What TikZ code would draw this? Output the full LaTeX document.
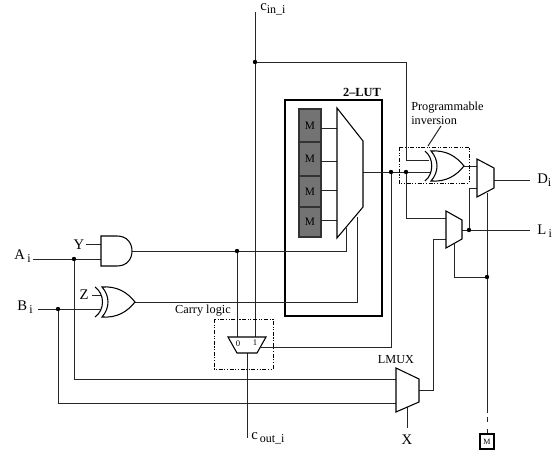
\documentclass[tikz,border=0pt]{standalone}
\usepackage{fontspec}
\setmainfont{Liberation Serif}
\newcommand{\subtxt}[1]{\raisebox{-0.45ex}{\fontsize{9}{9}\selectfont #1}}
\tikzset{
  wire/.style={line width=0.75pt,black!85},
  part/.style={line width=0.8pt,black,fill=white,line join=miter},
  dot/.style={circle,fill=black,inner sep=0pt,minimum size=3.3pt},
  dashbox/.style={line width=0.75pt,dash pattern=on 3pt off 1.2pt on 0.8pt off 1.2pt on 0.8pt off 1.2pt},
  lab/.style={inner sep=0pt,font=\fontsize{9.2}{10}\selectfont},
  biglab/.style={inner sep=0pt,font=\fontsize{11}{12}\selectfont},
  mblock/.style={draw=black!80,line width=0.8pt,fill=black!55,inner sep=0pt,minimum width=16.5pt,font=\fontsize{8.5}{9}\selectfont},
}
\begin{document}
\begin{tikzpicture}[x=0.75pt,y=-0.75pt]
\useasboundingbox (0,0) rectangle (558,454);
% named points
\coordinate (cintop) at (255,12);
\coordinate (cinj) at (255,62);
\coordinate (cincor) at (406,62);
\coordinate (xa) at (406,160);
\coordinate (xai) at (429,160);
\coordinate (lutout) at (363,172);
\coordinate (xbi) at (431,172);
\coordinate (xout) at (464,166);
\coordinate (dmuxa) at (477,166);
\coordinate (dmuxb) at (477,188);
\coordinate (dmuxo) at (494,180);
\coordinate (dmuxs) at (487,193);
\coordinate (dend) at (530,180);
\coordinate (lend) at (530,230);
\coordinate (lmuxo) at (462,230);
\coordinate (lmuxa) at (446,218);
\coordinate (lmuxb) at (446,239);
\coordinate (lmuxs) at (454,244);
\coordinate (lc1) at (406,218);
\coordinate (lc2) at (433,239);
\coordinate (lc3) at (433,390);
\coordinate (lmx) at (419,390);
\coordinate (sc) at (454,277);
\coordinate (dc) at (469,188);
\coordinate (ms) at (487,413);
\coordinate (msd) at (487,434);
\coordinate (xsel) at (407,428);
\coordinate (xst) at (407,406);
\coordinate (andout) at (132,251);
\coordinate (xorout) at (135,302);
\coordinate (ac) at (346,251);
\coordinate (am) at (346,228);
\coordinate (bc) at (357,302);
\coordinate (bm) at (357,217);
\coordinate (ai) at (33,259);
\coordinate (aand) at (101,259);
\coordinate (yst) at (86,244);
\coordinate (yand) at (101,244);
\coordinate (bi) at (38,309);
\coordinate (bxor) at (101,309);
\coordinate (zst) at (92,295);
\coordinate (zxor) at (101,295);
\coordinate (ad) at (74,379);
\coordinate (lma) at (396,379);
\coordinate (bd) at (58,403);
\coordinate (lmb) at (396,403);
\coordinate (c0) at (237,337);
\coordinate (c1) at (255,337);
\coordinate (cso) at (261,347);
\coordinate (csc) at (391,347);
\coordinate (coa) at (247,353);
\coordinate (cob) at (247,438);
\coordinate (pla) at (441,126);
\coordinate (plb) at (428,146);
% LUT box
\node[draw,line width=1.1pt,inner sep=0pt,minimum width=72.75pt,minimum height=162pt] (lut) at (333.5,208) {};
\node[inner sep=0pt,font=\fontsize{9.3}{10}\selectfont\bfseries] (lutlab) at (362,92) {2--LUT};
% wires
\draw[wire] (cintop) -- (c1);
\draw[wire] (cinj) -- (cincor) -- (xa) -- (xai);
\draw[wire] (lutout) -- (xbi);
\draw[wire] (xout) -- (dmuxa);
\draw[wire] (dmuxo) -- (dend);
\draw[wire] (lmuxo) -- (lend);
\draw[wire] (dc) -- (dmuxb);
\draw[wire] (dc) -- (lmuxo -| dc);
\draw[wire] (lc1) -- (lmuxa);
\draw[wire] (406,172) -- (lc1);
\draw[wire] (lmuxb) -- (lc2) -- (lc3) -- (lmx);
\draw[wire] (lmuxs) -- (sc) -- (487,277);
\draw[wire] (dmuxs) -- (ms);
\draw[wire,dash pattern=on 0pt off 3pt on 3.75pt off 5.25pt on 3pt off 9pt] (ms) -- (msd);
\draw[wire] (xst) -- (xsel);
\draw[wire] (andout) -- (ac) -- (am);
\draw[wire] (xorout) -- (bc) -- (bm);
\draw[wire] (ai) -- (aand);
\draw[wire] (yst) -- (yand);
\draw[wire] (bi) -- (bxor);
\draw[wire] (zst) -- (zxor);
\draw[wire] (74,259) -- (ad) -- (lma);
\draw[wire] (58,309) -- (bd) -- (lmb);
\draw[wire] (237,251) -- (c0);
\draw[wire] (coa) -- (cob);
\draw[wire] (cso) -- (csc) -- (391,172);
\draw[wire] (pla) -- (plb);
% memory cells
\node[mblock,minimum height=24.75pt] (m1) at (310,125.5) {M};
\node[mblock,minimum height=25.5pt] (m2) at (310,159) {M};
\node[mblock,minimum height=23.25pt] (m3) at (310,191.5) {M};
\node[mblock,minimum height=22.5pt] (m4) at (310,222) {M};
\draw[wire] (321,128) -- (337,128);
\draw[wire] (321,161) -- (337,161);
\draw[wire] (321,190) -- (337,190);
\draw[wire] (321,220) -- (337,220);
% muxes
\draw[part] (337,108) -- (363,141) -- (363,207) -- (337,238) -- cycle;
\draw[part] (477,159) -- (494,168) -- (494,188) -- (477,197) -- cycle;
\draw[part] (446,211) -- (462,220) -- (462,239) -- (446,248) -- cycle;
\draw[part] (396,368) -- (419,379) -- (419,402) -- (396,412) -- cycle;
\draw[part] (228,337) -- (266,337) -- (257,353) -- (237,353) -- cycle;
\node[inner sep=0pt,font=\fontsize{6.5}{7}\selectfont] (c0lab) at (238,344) {0};
\node[inner sep=0pt,font=\fontsize{6.5}{7}\selectfont] (c1lab) at (255,343) {1};
% AND gate
\draw[part] (101,236) -- (117,236) .. controls (127,236) and (132,243) .. (132,251) .. controls (132,259) and (127,266) .. (117,266) -- (101,266) -- cycle;
% XOR upper
\draw[part] (431,151) .. controls (446,150) and (456,156) .. (464,166) .. controls (456,176) and (446,182) .. (431,181) .. controls (439,172) and (439,160) .. (431,151) -- cycle;
\draw[line width=0.8pt] (425,151) .. controls (434,158) and (434,174) .. (425,181);
% XOR lower
\draw[part] (102,287) .. controls (117,286) and (127,292) .. (135,302) .. controls (127,312) and (117,318) .. (102,317) .. controls (110,308) and (110,296) .. (102,287) -- cycle;
\draw[line width=0.8pt] (95,287) .. controls (105,294) and (105,310) .. (95,317);
% dash boxes
\draw[dashbox] (399,147) rectangle (469,183);
\draw[dashbox] (214,319) rectangle (273,369);
% dots
\node[dot] (d1) at (255,62) {};
\node[dot] (d2) at (391,172) {};
\node[dot] (d3) at (406,172) {};
\node[dot] (d4) at (469,230) {};
\node[dot] (d5) at (487,277) {};
\node[dot] (d6) at (74,259) {};
\node[dot] (d7) at (58,309) {};
\node[dot] (d8) at (237,251) {};
% M box
\node[draw,line width=0.8pt,inner sep=0pt,minimum width=10.5pt,minimum height=11.25pt,font=\fontsize{6}{7}\selectfont] (mbox) at (487,441.5) {M};
% labels
\node[lab,align=left,anchor=north west] (prog) at (411,102) {Programmable\\inversion};
\node[lab] (carry) at (203,311) {Carry logic};
\node[lab] (lmuxlab) at (396,360) {LMUX};
\node[biglab] (ylab) at (79,245) {Y};
\node[biglab] (zlab) at (84,295) {Z};
\node[biglab] (xlab) at (407,440) {X};
\node[biglab,anchor=west] (alab) at (14,256) {A\,\subtxt{i}};
\node[biglab,anchor=west] (blab) at (17,307) {B\,\subtxt{i}};
\node[biglab,anchor=west] (dlab) at (537,180) {D\subtxt{i}};
\node[biglab,anchor=west] (llab) at (537,231) {L\,\subtxt{i}};
\node[biglab,anchor=west] (cinlab) at (260,9) {c\subtxt{in\_i}};
\node[biglab,anchor=west] (coutlab) at (251,438) {c\subtxt{\,out\_i}};
\end{tikzpicture}
\end{document}
